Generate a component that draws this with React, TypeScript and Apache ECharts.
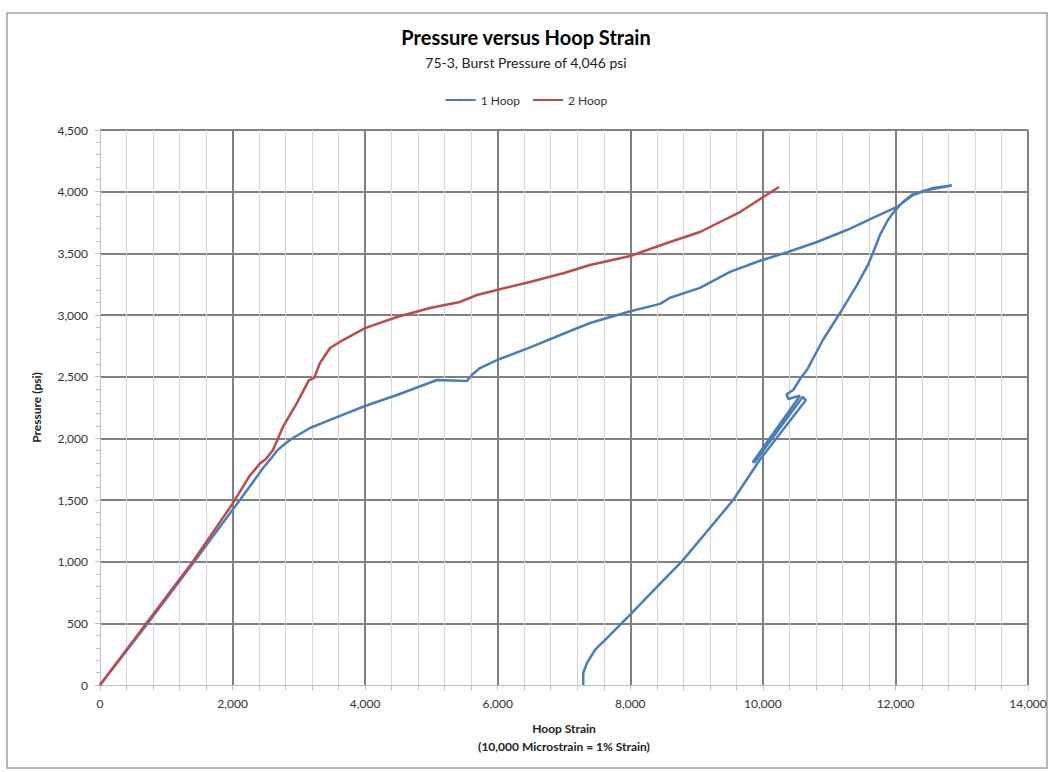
import React, { useEffect, useRef } from "react";
import * as echarts from "echarts";

const hoop1Strain = [0, 720, 1420, 2000, 2300, 2460, 2600, 2670, 2800, 2911, 3168, 3470, 3998, 4480, 5084, 5536, 5620, 5733, 5989, 6500, 7000, 7392, 8000, 8450, 8600, 9051, 9504, 9957, 10379, 10816, 11268, 11661, 12023, 12264, 12566, 12792, 12850, 12700, 12450, 12250, 12113, 11963, 11887, 11767, 11661, 11586, 11419, 11163, 10906, 10665, 10585, 10458, 10358, 10383, 10560, 9850, 9875, 10600, 10650, 9960, 9552, 9150, 8775, 8402, 7995, 7693, 7467, 7346, 7290, 7290];
const hoop1Pressure = [0, 500, 1000, 1420, 1640, 1760, 1850, 1900, 1960, 2003, 2084, 2149, 2262, 2351, 2473, 2465, 2520, 2570, 2635, 2740, 2850, 2935, 3030, 3090, 3140, 3220, 3350, 3440, 3511, 3592, 3689, 3787, 3876, 3973, 4030, 4046, 4050, 4035, 4010, 3975, 3916, 3827, 3770, 3649, 3503, 3406, 3243, 3016, 2797, 2554, 2500, 2392, 2357, 2319, 2346, 1808, 1806, 2335, 2310, 1830, 1500, 1240, 1000, 795, 568, 405, 284, 178, 97, 0];

const hoop2Strain = [0, 700, 1400, 2000, 2250, 2414, 2500, 2610, 2760, 2972, 3150, 3230, 3319, 3470, 3666, 3998, 4480, 4978, 5431, 5687, 5989, 6500, 7000, 7392, 8000, 8598, 9051, 9655, 10243];
const hoop2Pressure = [0, 500, 1000, 1470, 1690, 1797, 1830, 1905, 2092, 2287, 2470, 2490, 2611, 2732, 2797, 2894, 2984, 3057, 3106, 3162, 3203, 3270, 3340, 3405, 3478, 3592, 3673, 3835, 4038];

const seriesNames = ["1 Hoop", "2 Hoop"];
const titleText = "Pressure versus Hoop Strain";
const subtitleText = "75-3, Burst Pressure of 4,046 psi";
const xAxisName = "Hoop Strain";
const xAxisSubName = "(10,000 Microstrain = 1% Strain)";
const yAxisName = "Pressure (psi)";

const zip = (xs: number[], ys: number[]) => xs.map((x, i) => [x, ys[i]]);
const fmt = (v: number) => v.toLocaleString("en-US");

export default function App() {
  const ref = useRef<HTMLDivElement>(null);
  useEffect(() => {
    if (!ref.current) return;
    const chart = echarts.init(ref.current, undefined, { renderer: "svg" });
    const font = "Lato, 'Open Sans', sans-serif";
    chart.setOption({
      animation: false,
      backgroundColor: "#ffffff",
      textStyle: { fontFamily: font },
      title: {
        text: titleText,
        subtext: subtitleText,
        left: "center",
        top: 22,
        itemGap: 8,
        textStyle: { fontFamily: font, fontSize: 20, fontWeight: "bold", color: "#000" },
        subtextStyle: { fontFamily: font, fontSize: 14, color: "#222" },
      },
      legend: {
        top: 89,
        left: "center",
        itemWidth: 30,
        itemHeight: 3,
        itemGap: 12,
        textStyle: { fontFamily: font, fontSize: 12, color: "#333" },
        data: seriesNames,
      },
      graphic: [
        {
          type: "rect",
          shape: { x: 7, y: 13, width: 1040, height: 755 },
          style: { fill: "none", stroke: "#a0a0a0", lineWidth: 1.5 },
          silent: true,
        },
      ],
      grid: { left: 100, right: 24, top: 130, bottom: 87 },
      xAxis: {
        type: "value",
        min: 0,
        max: 14000,
        interval: 2000,
        name: xAxisName + "\n" + xAxisSubName,
        nameLocation: "middle",
        nameGap: 34,
        nameTextStyle: { fontFamily: font, fontSize: 12, fontWeight: "bold", color: "#222", lineHeight: 18 },
        axisLine: { show: true, lineStyle: { color: "#c0c0c0", width: 1 } },
        axisTick: { show: true, length: 5, lineStyle: { color: "#c0c0c0" } },
        minorTick: { show: true, splitNumber: 5, length: 5, lineStyle: { color: "#c0c0c0" } },
        axisLabel: { formatter: fmt, fontSize: 12, color: "#333", margin: 12 },
        splitLine: { show: true, showMinLine: false, lineStyle: { color: "#808080", width: 2 } },
        minorSplitLine: { show: true, lineStyle: { color: "#d6d6d6", width: 1 } },
      },
      yAxis: {
        type: "value",
        min: 0,
        max: 4500,
        interval: 500,
        name: yAxisName,
        nameLocation: "middle",
        nameGap: 58,
        nameTextStyle: { fontFamily: font, fontSize: 12, fontWeight: "bold", color: "#222" },
        axisLine: { show: true, lineStyle: { color: "#c0c0c0", width: 1 } },
        axisTick: { show: true, length: 5, lineStyle: { color: "#c0c0c0" } },
        minorTick: { show: true, splitNumber: 5, length: 4, lineStyle: { color: "#c0c0c0" } },
        axisLabel: { formatter: fmt, fontSize: 12, color: "#333", margin: 12 },
        splitLine: { show: true, showMinLine: false, lineStyle: { color: "#808080", width: 2 } },
      },
      series: [
        {
          name: seriesNames[0],
          type: "line",
          symbol: "none",
          data: zip(hoop1Strain, hoop1Pressure),
          lineStyle: { color: "#4a7ebb", width: 2.5 },
          itemStyle: { color: "#4a7ebb" },
        },
        {
          name: seriesNames[1],
          type: "line",
          symbol: "none",
          data: zip(hoop2Strain, hoop2Pressure),
          lineStyle: { color: "#be4b48", width: 2.5 },
          itemStyle: { color: "#be4b48" },
        },
      ],
    });
    return () => chart.dispose();
  }, []);
  return (
    <div
      ref={ref}
      style={{ position: "fixed", left: 0, top: 0, width: 1052, height: 772 }}
    />
  );
}
